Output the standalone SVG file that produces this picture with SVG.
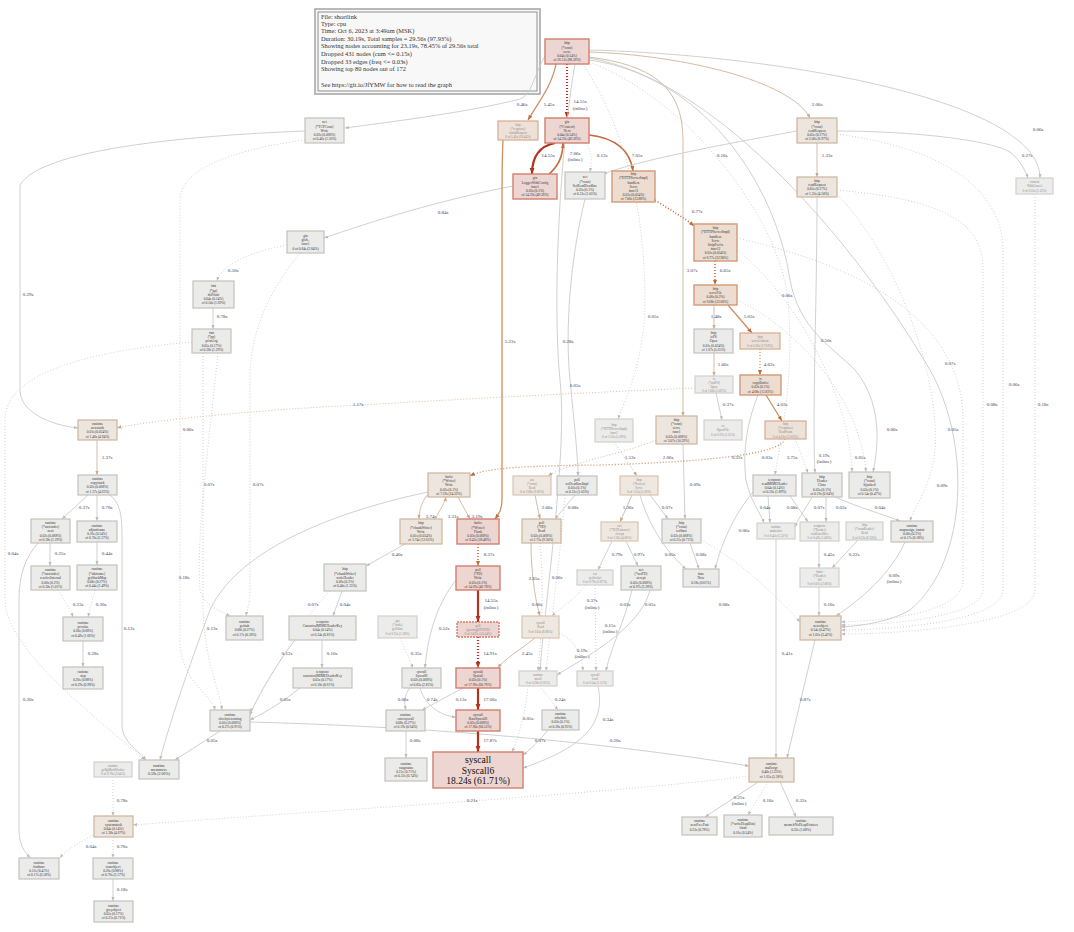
<svg xmlns="http://www.w3.org/2000/svg" width="1074" height="932" viewBox="0 0 1074 932">
<style>
.gr{fill:#ebebe9;stroke:#c4c2bd;stroke-width:1.2}
.gd{fill:#ececea;stroke:#d2d1ce;stroke-width:1.2}
.tn{fill:#ede6de;stroke:#cdb49c;stroke-width:1.2}
.td{fill:#eee8e1;stroke:#d9c4b0;stroke-width:1.2}
.or{fill:#eddcd0;stroke:#d19a78;stroke-width:1.4}
.od{fill:#eee1d7;stroke:#d8ab8e;stroke-width:1.2}
.rd{fill:#edd5d2;stroke:#d27f6e;stroke-width:1.4}
.nt{font-family:"Liberation Serif",serif;font-size:3.5px;fill:#333;text-anchor:middle}
.nd{font-family:"Liberation Serif",serif;font-size:3.2px;fill:#8a8a8a;text-anchor:middle}
.el{font-family:"Liberation Serif",serif;font-size:5px;fill:#3b3b5c;text-anchor:middle}
.lg{font-family:"Liberation Serif",serif;font-size:6.4px;fill:#333}
.e{fill:none}
.eg{stroke:#cbcbcb;stroke-width:0.9}
.et{stroke:#d5bca5;stroke-width:1}
.eo{stroke:#cf8e62;stroke-width:1.3}
.eo2{stroke:#c4693a;stroke-width:1.6}
.er{stroke:#b5311a;stroke-width:2.2}
.d{stroke-dasharray:1 2}
</style>
<defs>
<marker id="mg" viewBox="0 0 10 10" refX="10" refY="5" markerWidth="4" markerHeight="4" markerUnits="userSpaceOnUse" orient="auto"><path d="M0,1L10,5L0,9z" fill="#bcbcbc"/></marker>
<marker id="mt" viewBox="0 0 10 10" refX="10" refY="5" markerWidth="4.5" markerHeight="4.5" markerUnits="userSpaceOnUse" orient="auto"><path d="M0,1L10,5L0,9z" fill="#c9a78a"/></marker>
<marker id="mo" viewBox="0 0 10 10" refX="10" refY="5" markerWidth="5" markerHeight="5" markerUnits="userSpaceOnUse" orient="auto"><path d="M0,1L10,5L0,9z" fill="#c4693a"/></marker>
<marker id="mr" viewBox="0 0 10 10" refX="10" refY="5" markerWidth="6" markerHeight="6" markerUnits="userSpaceOnUse" orient="auto"><path d="M0,1L10,5L0,9z" fill="#b5311a"/></marker>
</defs>
<rect width="1074" height="932" fill="#ffffff"/>

<g id="legend">
<rect x="315" y="9" width="225" height="85" fill="#f8f8f8" stroke="#a8a8a8" stroke-width="1.6"/>
<rect x="318" y="12" width="219" height="79" fill="none" stroke="#777" stroke-width="0.8"/>
<text class="lg" x="321" y="18.5">File: shortlink</text>
<text class="lg" x="321" y="26">Type: cpu</text>
<text class="lg" x="321" y="33.3">Time: Oct 6, 2023 at 3:49am (MSK)</text>
<text class="lg" x="321" y="40.8">Duration: 30.19s, Total samples = 29.56s (97.93%)</text>
<text class="lg" x="321" y="48">Showing nodes accounting for 23.19s, 78.45% of 29.56s total</text>
<text class="lg" x="321" y="55.7">Dropped 431 nodes (cum &lt;= 0.15s)</text>
<text class="lg" x="321" y="63.5">Dropped 33 edges (freq &lt;= 0.03s)</text>
<text class="lg" x="321" y="71.2">Showing top 80 nodes out of 172</text>
<text class="lg" x="321" y="86.5">See https://git.io/JfYMW for how to read the graph</text>
</g>

<g id="connectors">
<path class="e eg" d="M545,56 C532,80 532,94 520,99 C470,112 390,122 345,128" marker-end="url(#mg)"/>
<text class="el" x="522" y="106">0.46s</text>
<path class="e eo" d="M556,64 C552,85 540,100 528,120" marker-end="url(#mo)"/>
<text class="el" x="549" y="106">5.45s</text>
<path class="e er d" d="M567,64 L567,118" marker-end="url(#mr)"/>
<text class="el" x="580" y="103">14.55s</text><text class="el" x="580" y="110">(inline)</text>
<path class="e er" d="M555,143 C540,146 532,156 532,174" marker-end="url(#mr)"/>
<text class="el" x="548" y="157">14.55s</text>
<path class="e eo2" d="M549,174 C560,165 563,155 563,143" marker-end="url(#mo)"/>
<text class="el" x="575" y="155">7.06s</text><text class="el" x="575" y="161">(inline)</text>
<path class="e eg d" d="M585,143 C592,150 592,160 590,172" marker-end="url(#mg)"/>
<text class="el" x="602" y="157">0.12s</text>
<path class="e eo2" d="M589,135 C615,138 630,150 633,171" marker-end="url(#mo)"/>
<text class="el" x="637" y="157">7.05s</text>
<path class="e eo2 d" d="M655,200 C670,210 685,218 694,226" marker-end="url(#mo)"/>
<text class="el" x="697" y="213">6.77s</text>
<path class="e eo2 d" d="M715,261 L715,285" marker-end="url(#mo)"/>
<text class="el" x="725" y="272">6.65s</text>
<path class="e et" d="M589,57 C650,65 683,85 683,140 L683,416" marker-end="url(#mt)"/>
<text class="el" x="692" y="272">3.07s</text>
<path class="e et" d="M589,52 C680,55 790,80 810,118" marker-end="url(#mt)"/>
<text class="el" x="817" y="106">2.06s</text>
<path class="e et" d="M817,143 L817,177" marker-end="url(#mt)"/>
<text class="el" x="827" y="157">1.33s</text>
<path class="e eg" d="M837,131 C900,131 985,138 1010,152 C1020,160 1025,170 1028,178" marker-end="url(#mg)"/>
<text class="el" x="1027" y="157">0.27s</text>
<path class="e eg" d="M589,50 C780,55 1040,100 1040,178" marker-end="url(#mg)"/>
<text class="el" x="1038" y="131">0.06s</text>
<path class="e eg" d="M797,131 C720,145 640,160 603,174" marker-end="url(#mg)"/>
<text class="el" x="722" y="157">0.16s</text>
<path class="e eg" d="M513,186 C440,200 370,222 324,238" marker-end="url(#mg)"/>
<text class="el" x="443" y="214">0.84s</text>
<path class="e eg d" d="M287,245 C250,252 222,264 217,281" marker-end="url(#mg)"/>
<text class="el" x="233" y="272">0.50s</text>
<path class="e eg" d="M213,308 L213,329" marker-end="url(#mg)"/>
<text class="el" x="222" y="318">0.78s</text>
<path class="e eg" d="M305,131 C180,136 40,150 20,185 L20,390 C20,412 50,425 78,428" marker-end="url(#mg)"/>
<text class="el" x="28" y="296">0.29s</text>
<path class="e et d" d="M695,388 C600,392 480,398 360,405 C250,410 140,422 117,428" marker-end="url(#mt)"/>
<text class="el" x="358" y="406">1.17s</text>
<path class="e et" d="M97,440 L97,475" marker-end="url(#mt)"/>
<text class="el" x="107" y="459">1.37s</text>
<path class="e eg" d="M88,495 L62,519" marker-end="url(#mg)"/>
<text class="el" x="84" y="509">0.37s</text>
<path class="e eg" d="M97,495 L97,521" marker-end="url(#mg)"/>
<text class="el" x="107" y="509">0.70s</text>
<path class="e eg" d="M110,495 C122,505 122,520 122,540 L122,725 C122,742 140,752 146,760" marker-end="url(#mg)"/>
<text class="el" x="129" y="630">0.12s</text>
<path class="e eg" d="M50,543 L50,566" marker-end="url(#mg)"/>
<text class="el" x="60" y="555">0.25s</text>
<path class="e eg" d="M97,542 L97,565" marker-end="url(#mg)"/>
<text class="el" x="107" y="555">0.44s</text>
<path class="e eg d" d="M58,590 C64,600 70,608 73,617" marker-end="url(#mg)"/>
<text class="el" x="78" y="606">0.23s</text>
<path class="e eg d" d="M95,590 L88,617" marker-end="url(#mg)"/>
<text class="el" x="101" y="606">0.30s</text>
<path class="e eg" d="M83,641 L83,667" marker-end="url(#mg)"/>
<text class="el" x="93" y="655">0.28s</text>
<path class="e eg" d="M38,543 C25,558 19,575 19,600 L19,830 C19,845 25,852 30,858" marker-end="url(#mg)"/>
<text class="el" x="28" y="701">0.30s</text>
<path class="e eg d" d="M192,342 C100,350 5,370 5,420 L5,600 C5,650 100,720 145,760" marker-end="url(#mg)"/>
<text class="el" x="13" y="555">0.04s</text>
<path class="e eg d" d="M305,140 C230,150 180,170 180,200 L180,640 C180,680 212,695 215,710" marker-end="url(#mg)"/>
<text class="el" x="188" y="431">0.06s</text>
<path class="e eg d" d="M203,353 L203,600 C203,660 220,690 222,710" marker-end="url(#mg)"/>
<text class="el" x="209" y="486">0.07s</text>
<path class="e eg d" d="M300,253 C270,290 250,330 250,380 L250,590 C250,603 247,610 246,616" marker-end="url(#mg)"/>
<text class="el" x="258" y="486">0.07s</text>
<path class="e eg d" d="M218,353 C208,450 196,540 200,590 C203,605 222,612 230,616" marker-end="url(#mg)"/>
<text class="el" x="184" y="579">0.18s</text>
<path class="e eg" d="M428,492 C320,515 235,555 210,610 C195,650 170,720 160,760" marker-end="url(#mg)"/>
<text class="el" x="212" y="630">0.13s</text>
<path class="e eg" d="M220,731 L175,760" marker-end="url(#mg)"/>
<text class="el" x="212" y="742">0.05s</text>
<path class="e eg d" d="M113,777 L113,816" marker-end="url(#mg)"/>
<text class="el" x="122" y="802">0.78s</text>
<path class="e eg d" d="M113,837 L113,858" marker-end="url(#mg)"/>
<text class="el" x="122" y="848">0.76s</text>
<path class="e eg d" d="M96,834 C80,842 66,850 60,858" marker-end="url(#mg)"/>
<text class="el" x="91" y="848">0.04s</text>
<path class="e eg" d="M113,879 L113,901" marker-end="url(#mg)"/>
<text class="el" x="122" y="891">0.18s</text>
<path class="e eg d" d="M749,776 C600,795 300,812 133,825" marker-end="url(#mg)"/>
<text class="el" x="472" y="802">0.21s</text>
<path class="e eg" d="M250,722 C400,726 580,738 749,766" marker-end="url(#mg)"/>
<text class="el" x="615" y="742">0.20s</text>

<path class="e eo" d="M503,140 C502,160 502,180 502,200 L502,500 C502,510 498,515 495,519" marker-end="url(#mo)"/>
<text class="el" x="510" y="343">5.22s</text>
<path class="e et" d="M430,492 C422,500 419,510 419,519" marker-end="url(#mt)"/>
<text class="el" x="431" y="518">3.74s</text>
<path class="e et" d="M435,519 C440,510 445,502 446,497" marker-end="url(#mt)"/>
<text class="el" x="453" y="518">3.31s</text>
<path class="e et" d="M458,497 L470,519" marker-end="url(#mt)"/>
<text class="el" x="477" y="518">3.19s</text>
<path class="e eg" d="M405,544 L366,566" marker-end="url(#mg)"/>
<text class="el" x="397" y="556">0.40s</text>
<path class="e eo2 d" d="M478,544 L478,566" marker-end="url(#mo)"/>
<text class="el" x="489" y="556">8.37s</text>
<path class="e er" d="M478,590 L478,622" marker-end="url(#mr)"/>
<text class="el" x="491" y="602">14.55s</text><text class="el" x="491" y="609">(inline)</text>
<path class="e er d" d="M478,637 L478,668" marker-end="url(#mr)"/>
<text class="el" x="490" y="655">14.91s</text>
<path class="e er" d="M478,688 L478,710" marker-end="url(#mr)"/>
<text class="el" x="490" y="701">17.06s</text>
<path class="e er" d="M478,731 L478,752" marker-end="url(#mr)"/>
<text class="el" x="490" y="742">17.87s</text>
<path class="e eg" d="M410,688 C404,695 404,703 406,710" marker-end="url(#mg)"/>
<text class="el" x="403" y="701">0.06s</text>
<path class="e eg" d="M420,688 C425,705 440,716 456,717" marker-end="url(#mg)"/>
<text class="el" x="432" y="701">0.74s</text>
<path class="e eg" d="M463,688 L422,710" marker-end="url(#mg)"/>
<text class="el" x="461" y="701">0.13s</text>
<path class="e eg" d="M406,731 L406,758" marker-end="url(#mg)"/>
<text class="el" x="415" y="742">0.08s</text>
<path class="e et" d="M535,638 C520,650 503,660 498,668" marker-end="url(#mt)"/>
<text class="el" x="527" y="655">2.45s</text>
<path class="e et" d="M531,543 C531,570 535,600 540,616" marker-end="url(#mt)"/>
<text class="el" x="534" y="580">2.65s</text>
<path class="e et" d="M535,495 L540,519" marker-end="url(#mt)"/>
<text class="el" x="547" y="509">2.66s</text>
<path class="e eg" d="M575,495 L555,519" marker-end="url(#mg)"/>
<text class="el" x="573" y="509">0.08s</text>
<path class="e et d" d="M656,440 C620,455 570,462 548,476" marker-end="url(#mt)"/>
<text class="el" x="668" y="459">2.06s</text>
<path class="e eg" d="M683,444 L685,519" marker-end="url(#mg)"/>
<text class="el" x="695" y="486">0.09s</text>
<path class="e et" d="M714,305 L714,329" marker-end="url(#mt)"/>
<text class="el" x="716" y="318">1.48s</text>
<path class="e eo" d="M728,305 L752,333" marker-end="url(#mo)"/>
<text class="el" x="749" y="318">5.03s</text>
<path class="e et" d="M714,353 L714,376" marker-end="url(#mt)"/>
<text class="el" x="723" y="366">1.66s</text>
<path class="e eo d" d="M760,349 L760,375" marker-end="url(#mo)"/>
<text class="el" x="769" y="366">4.62s</text>
<path class="e eg" d="M716,393 L722,420" marker-end="url(#mg)"/>
<text class="el" x="728" y="406">0.37s</text>
<path class="e eo" d="M766,395 L782,421" marker-end="url(#mo)"/>
<text class="el" x="782" y="406">4.03s</text>
<path class="e eo d" d="M785,439 C780,455 700,462 600,465 C520,466 485,468 470,476" marker-end="url(#mo)"/>
<text class="el" x="792" y="459">3.75s</text>
<path class="e eg" d="M758,395 C748,420 742,450 746,480 C750,500 760,512 764,523" marker-end="url(#mg)"/>
<text class="el" x="737" y="459">0.32s</text>
<path class="e eg d" d="M795,439 C800,450 805,465 808,473" marker-end="url(#mg)"/>
<text class="el" x="767" y="459">0.03s</text>
<path class="e eg d" d="M583,64 C620,120 645,200 645,300 C645,360 625,400 618,419" marker-end="url(#mg)"/>
<text class="el" x="653" y="318">0.05s</text>
<path class="e et d" d="M614,442 L637,476" marker-end="url(#mt)"/>
<text class="el" x="630" y="459">1.53s</text>
<path class="e eg" d="M585,199 C570,260 565,330 570,380 C575,430 578,460 578,476" marker-end="url(#mg)"/>
<text class="el" x="568" y="343">0.28s</text>
<path class="e eg" d="M575,64 C560,150 552,300 560,380 C568,450 545,600 540,671" marker-end="url(#mg)"/>
<text class="el" x="575" y="387">0.05s</text>
<path class="e et" d="M632,495 L620,522" marker-end="url(#mt)"/>
<text class="el" x="628" y="509">1.36s</text>
<path class="e eg" d="M650,495 L668,519" marker-end="url(#mg)"/>
<text class="el" x="667" y="509">0.07s</text>
<path class="e eg" d="M612,541 L598,570" marker-end="url(#mg)"/>
<text class="el" x="617" y="556">0.79s</text>
<path class="e eg" d="M626,541 L638,566" marker-end="url(#mg)"/>
<text class="el" x="639" y="556">0.97s</text>
<path class="e eg" d="M690,543 L699,569" marker-end="url(#mg)"/>
<text class="el" x="701" y="556">0.08s</text>
<path class="e eg" d="M640,495 C650,530 670,555 686,569" marker-end="url(#mg)"/>
<text class="el" x="670" y="556">0.05s</text>
<path class="e eg" d="M768,496 L770,523" marker-end="url(#mg)"/>
<text class="el" x="765" y="509">0.04s</text>
<path class="e eg" d="M790,496 L808,522" marker-end="url(#mg)"/>
<text class="el" x="792" y="509">0.08s</text>
<path class="e eg" d="M753,492 C730,520 720,550 715,569" marker-end="url(#mg)"/>
<text class="el" x="744" y="532">0.06s</text>
<path class="e eg" d="M812,497 C805,510 800,515 795,527" marker-end="url(#mg)"/>
<text class="el" x="819" y="509">0.07s</text>
<path class="e eg" d="M826,497 L826,522" marker-end="url(#mg)"/>
<text class="el" x="841" y="509">0.03s</text>
<path class="e eg" d="M835,497 C860,508 885,515 900,521" marker-end="url(#mg)"/>
<text class="el" x="880" y="509">0.04s</text>
<path class="e eg" d="M819,541 L819,568" marker-end="url(#mg)"/>
<text class="el" x="829" y="556">0.45s</text>
<path class="e eg" d="M858,540 L832,568" marker-end="url(#mg)"/>
<text class="el" x="854" y="556">0.22s</text>
<path class="e eg" d="M905,542 C890,575 860,600 836,616" marker-end="url(#mg)"/>
<text class="el" x="894" y="577">0.09s</text><text class="el" x="894" y="583">(inline)</text>
<path class="e eg" d="M819,587 L819,616" marker-end="url(#mg)"/>
<text class="el" x="829" y="606">0.16s</text>
<path class="e eg" d="M776,539 L776,758" marker-end="url(#mg)"/>
<text class="el" x="787" y="655">0.41s</text>
<path class="e eg" d="M815,640 L787,758" marker-end="url(#mg)"/>
<text class="el" x="805" y="701">0.87s</text>
<path class="e eg" d="M758,782 L705,817" marker-end="url(#mg)"/>
<text class="el" x="739" y="799">0.25s</text><text class="el" x="739" y="805">(inline)</text>
<path class="e eg d" d="M768,782 L748,815" marker-end="url(#mg)"/>
<text class="el" x="768" y="802">0.16s</text>
<path class="e eg" d="M780,782 L796,817" marker-end="url(#mg)"/>
<text class="el" x="801" y="802">0.32s</text>
<path class="e eg" d="M598,686 C605,720 590,745 523,768" marker-end="url(#mg)"/>
<text class="el" x="608" y="721">0.34s</text>
<path class="e eg d" d="M540,686 L558,710" marker-end="url(#mg)"/>
<text class="el" x="560" y="701">0.24s</text>
<path class="e eg d" d="M528,686 C526,710 518,740 512,752" marker-end="url(#mg)"/>
<text class="el" x="528" y="720">0.05s</text>
<path class="e eg" d="M548,730 C540,740 530,750 523,755" marker-end="url(#mg)"/>
<text class="el" x="540" y="742">0.07s</text>
<path class="e eg d" d="M559,633 C575,640 582,655 583,671" marker-end="url(#mg)"/>
<text class="el" x="582" y="652">0.19s</text><text class="el" x="582" y="658">(inline)</text>
<path class="e eg d" d="M595,585 L596,671" marker-end="url(#mg)"/>
<text class="el" x="610" y="627">0.15s</text><text class="el" x="610" y="633">(inline)</text>
<path class="e eg d" d="M585,585 C575,600 560,608 552,616" marker-end="url(#mg)"/>
<text class="el" x="592" y="602">0.37s</text><text class="el" x="592" y="609">(inline)</text>
<path class="e eg" d="M632,590 C625,620 610,650 606,671" marker-end="url(#mg)"/>
<text class="el" x="625" y="606">0.03s</text>
<path class="e eg" d="M650,590 C640,630 580,660 557,675" marker-end="url(#mg)"/>
<text class="el" x="650" y="606">0.05s</text>
<path class="e eg d" d="M701,540 C740,560 780,600 800,622" marker-end="url(#mg)"/>
<text class="el" x="724" y="606">0.08s</text>
<path class="e eg d" d="M540,543 C545,600 540,650 538,671" marker-end="url(#mg)"/>
<text class="el" x="537" y="606">0.06s</text>
<path class="e eg d" d="M565,495 C560,560 550,630 546,671" marker-end="url(#mg)"/>
<text class="el" x="557" y="579">0.06s</text>
<path class="e eg" d="M342,591 L333,616" marker-end="url(#mg)"/>
<text class="el" x="345" y="606">0.04s</text>
<path class="e eg d" d="M330,591 C300,620 270,680 250,712" marker-end="url(#mg)"/>
<text class="el" x="313" y="606">0.07s</text>
<path class="e eg" d="M322,640 L322,668" marker-end="url(#mg)"/>
<text class="el" x="332" y="655">0.10s</text>
<path class="e eg" d="M295,640 C280,660 260,690 250,715" marker-end="url(#mg)"/>
<text class="el" x="287" y="655">0.12s</text>
<path class="e eg" d="M300,688 C285,700 270,710 250,720" marker-end="url(#mg)"/>
<text class="el" x="285" y="701">0.05s</text>
<path class="e eg d" d="M400,638 L413,668" marker-end="url(#mg)"/>
<text class="el" x="416" y="655">0.35s</text>
<path class="e eg" d="M456,580 C440,600 428,630 425,668" marker-end="url(#mg)"/>
<text class="el" x="444" y="630">0.52s</text>

<path class="e eg" d="M589,60 C700,75 775,180 790,280 C800,330 830,345 855,370 C880,400 880,440 873,472" marker-end="url(#mg)"/>
<text class="el" x="826" y="342">0.50s</text>
<path class="e eg" d="M589,58 C720,80 860,250 930,370 C970,440 970,560 910,610 C890,622 860,626 841,627" marker-end="url(#mg)"/>
<text class="el" x="953" y="431">0.05s</text>
<path class="e eg d" d="M737,238 C880,270 963,330 963,420 L963,580 C963,610 900,620 841,622" marker-end="url(#mg)"/>
<text class="el" x="950" y="365">0.07s</text>
<path class="e eg d" d="M837,134 C960,150 1003,200 1003,250 L1003,590 C1003,620 900,630 841,630" marker-end="url(#mg)"/>
<text class="el" x="1014" y="386">0.06s</text>
<path class="e eg d" d="M837,190 C950,200 983,225 983,270 L983,590 C983,615 900,625 841,625" marker-end="url(#mg)"/>
<text class="el" x="992" y="406">0.08s</text>
<path class="e eg d" d="M1035,194 L1035,590 C1035,625 900,634 841,634" marker-end="url(#mg)"/>
<text class="el" x="1043" y="406">0.18s</text>
<path class="e eg d" d="M737,300 C800,330 860,400 866,472" marker-end="url(#mg)"/>
<text class="el" x="892" y="431">0.06s</text>
<path class="e eg" d="M817,197 C817,300 812,420 815,473" marker-end="url(#mg)"/>
<text class="el" x="824" y="457">0.19s</text><text class="el" x="824" y="463">(inline)</text>
<path class="e eg d" d="M737,250 C800,300 850,400 852,472" marker-end="url(#mg)"/>
<text class="el" x="860" y="459">0.05s</text>
<path class="e eg d" d="M837,194 C900,260 940,380 935,450 C930,490 915,505 910,521" marker-end="url(#mg)"/>
<text class="el" x="942" y="487">0.09s</text>
<path class="e eg d" d="M589,62 C690,100 780,220 788,300 C795,380 780,440 775,475" marker-end="url(#mg)"/>
<text class="el" x="787" y="297">0.06s</text>
</g>

<g id="n_root"><rect class="rd" x="545" y="39" width="44" height="25"/><text class="nt" x="567" y="44.4"><tspan x="567">http</tspan><tspan x="567" dy="4.2">(*conn)</tspan><tspan x="567" dy="4.2">serve</tspan><tspan x="567" dy="4.2">0.04s (0.14%)</tspan><tspan x="567" dy="4.2">of 26.12s (88.36%)</tspan></text></g>
<g id="n_tcpw"><rect class="gr" x="305" y="118" width="39" height="25"/><text class="nt" x="324.5" y="123.4"><tspan x="324.5">net</tspan><tspan x="324.5" dy="4.2">(*TCPConn)</tspan><tspan x="324.5" dy="4.2">Write</tspan><tspan x="324.5" dy="4.2">0.02s (0.068%)</tspan><tspan x="324.5" dy="4.2">of 0.46s (1.56%)</tspan></text></g>
<g id="n_finish"><rect class="od" x="498" y="121" width="40" height="19"/><text class="nd" x="518" y="125.5"><tspan x="518">http</tspan><tspan x="518" dy="4.2">(*response)</tspan><tspan x="518" dy="4.2">finishRequest</tspan><tspan x="518" dy="4.2">0 of 5.45s (18.44%)</tspan></text></g>
<g id="n_next"><rect class="rd" x="545" y="118" width="44" height="25"/><text class="nt" x="567" y="123.4"><tspan x="567">gin</tspan><tspan x="567" dy="4.2">(*Context)</tspan><tspan x="567" dy="4.2">Next</tspan><tspan x="567" dy="4.2">0.04s (0.14%)</tspan><tspan x="567" dy="4.2">of 14.59s (49.36%)</tspan></text></g>
<g id="n_logger"><rect class="rd" x="513" y="174" width="44" height="25"/><text class="nt" x="535" y="179.4"><tspan x="535">gin</tspan><tspan x="535" dy="4.2">LoggerWithConfig</tspan><tspan x="535" dy="4.2">func1</tspan><tspan x="535" dy="4.2">0.03s (0.1%)</tspan><tspan x="535" dy="4.2">of 14.59s (49.36%)</tspan></text></g>
<g id="n_setrd"><rect class="gr" x="565" y="172" width="40" height="27"/><text class="nt" x="585" y="178.4"><tspan x="585">net</tspan><tspan x="585" dy="4.2">(*conn)</tspan><tspan x="585" dy="4.2">SetReadDeadline</tspan><tspan x="585" dy="4.2">0.03s (0.1%)</tspan><tspan x="585" dy="4.2">of 0.31s (1.05%)</tspan></text></g>
<g id="n_f11"><rect class="or" x="612" y="171" width="43" height="31"/><text class="nt" x="633.5" y="175.2"><tspan x="633.5">http</tspan><tspan x="633.5" dy="4.2">(*HTTPServerImpl)</tspan><tspan x="633.5" dy="4.2">handlers</tspan><tspan x="633.5" dy="4.2">Serve</tspan><tspan x="633.5" dy="4.2">func11</tspan><tspan x="633.5" dy="4.2">0.01s (0.034%)</tspan><tspan x="633.5" dy="4.2">of 7.06s (23.88%)</tspan></text></g>
<g id="n_f12"><rect class="or" x="694" y="224" width="43" height="37"/><text class="nt" x="715.5" y="229.1"><tspan x="715.5">http</tspan><tspan x="715.5" dy="4.2">(*HTTPServerImpl)</tspan><tspan x="715.5" dy="4.2">handlers</tspan><tspan x="715.5" dy="4.2">Serve</tspan><tspan x="715.5" dy="4.2">StripPrefix</tspan><tspan x="715.5" dy="4.2">func12</tspan><tspan x="715.5" dy="4.2">0.01s (0.034%)</tspan><tspan x="715.5" dy="4.2">of 6.77s (22.90%)</tspan></text></g>
<g id="n_servefile"><rect class="or" x="694" y="285" width="43" height="20"/><text class="nt" x="715.5" y="290"><tspan x="715.5">http</tspan><tspan x="715.5" dy="4.2">serveFile</tspan><tspan x="715.5" dy="4.2">0.06s (0.2%)</tspan><tspan x="715.5" dy="4.2">of 6.68s (22.60%)</tspan></text></g>
<g id="n_cread"><rect class="tn" x="797" y="118" width="40" height="25"/><text class="nt" x="817" y="123.4"><tspan x="817">http</tspan><tspan x="817" dy="4.2">(*conn)</tspan><tspan x="817" dy="4.2">readRequest</tspan><tspan x="817" dy="4.2">0.05s (0.17%)</tspan><tspan x="817" dy="4.2">of 2.06s (6.97%)</tspan></text></g>
<g id="n_rread"><rect class="tn" x="797" y="177" width="40" height="20"/><text class="nt" x="817" y="182"><tspan x="817">http</tspan><tspan x="817" dy="4.2">readRequest</tspan><tspan x="817" dy="4.2">0.05s (0.17%)</tspan><tspan x="817" dy="4.2">of 1.33s (4.50%)</tspan></text></g>
<g id="n_ctx"><rect class="gd" x="1016" y="178" width="37" height="16"/><text class="nd" x="1034.5" y="183.1"><tspan x="1034.5">context</tspan><tspan x="1034.5" dy="4.2">WithCancel</tspan><tspan x="1034.5" dy="4.2">0 of 0.33s (1.12%)</tspan></text></g>
<g id="n_ginfn"><rect class="gr" x="287" y="231" width="37" height="22"/><text class="nt" x="305.5" y="237"><tspan x="305.5">gin</tspan><tspan x="305.5" dy="4.2">glob..</tspan><tspan x="305.5" dy="4.2">func1</tspan><tspan x="305.5" dy="4.2">0 of 0.84s (2.84%)</tspan></text></g>
<g id="n_doprintf"><rect class="gr" x="193" y="281" width="41" height="27"/><text class="nt" x="213.5" y="287.4"><tspan x="213.5">fmt</tspan><tspan x="213.5" dy="4.2">(*pp)</tspan><tspan x="213.5" dy="4.2">doPrintf</tspan><tspan x="213.5" dy="4.2">0.04s (0.14%)</tspan><tspan x="213.5" dy="4.2">of 0.50s (1.69%)</tspan></text></g>
<g id="n_printarg"><rect class="gr" x="192" y="329" width="39" height="24"/><text class="nt" x="211.5" y="333.9"><tspan x="211.5">fmt</tspan><tspan x="211.5" dy="4.2">(*pp)</tspan><tspan x="211.5" dy="4.2">printArg</tspan><tspan x="211.5" dy="4.2">0.05s (0.17%)</tspan><tspan x="211.5" dy="4.2">of 0.38s (1.29%)</tspan></text></g>
<g id="n_newstack"><rect class="tn" x="78" y="420" width="39" height="20"/><text class="nt" x="97.5" y="425"><tspan x="97.5">runtime</tspan><tspan x="97.5" dy="4.2">newstack</tspan><tspan x="97.5" dy="4.2">0.01s (0.034%)</tspan><tspan x="97.5" dy="4.2">of 1.46s (4.94%)</tspan></text></g>
<g id="n_copystack"><rect class="gr" x="78" y="475" width="39" height="20"/><text class="nt" x="97.5" y="480"><tspan x="97.5">runtime</tspan><tspan x="97.5" dy="4.2">copystack</tspan><tspan x="97.5" dy="4.2">0.02s (0.068%)</tspan><tspan x="97.5" dy="4.2">of 1.37s (4.63%)</tspan></text></g>
<g id="n_unwnext"><rect class="gr" x="31" y="519" width="39" height="24"/><text class="nt" x="50.5" y="523.9"><tspan x="50.5">runtime</tspan><tspan x="50.5" dy="4.2">(*unwinder)</tspan><tspan x="50.5" dy="4.2">next</tspan><tspan x="50.5" dy="4.2">0.02s (0.068%)</tspan><tspan x="50.5" dy="4.2">of 0.38s (1.29%)</tspan></text></g>
<g id="n_adjust"><rect class="gr" x="77" y="521" width="40" height="21"/><text class="nt" x="97" y="526.5"><tspan x="97">runtime</tspan><tspan x="97" dy="4.2">adjustframe</tspan><tspan x="97" dy="4.2">0.16s (0.54%)</tspan><tspan x="97" dy="4.2">of 0.70s (2.37%)</tspan></text></g>
<g id="n_resolve"><rect class="gr" x="31" y="566" width="39" height="24"/><text class="nt" x="50.5" y="570.9"><tspan x="50.5">runtime</tspan><tspan x="50.5" dy="4.2">(*unwinder)</tspan><tspan x="50.5" dy="4.2">resolveInternal</tspan><tspan x="50.5" dy="4.2">0.06s (0.2%)</tspan><tspan x="50.5" dy="4.2">of 0.30s (1.01%)</tspan></text></g>
<g id="n_getstackmap"><rect class="gr" x="77" y="565" width="40" height="25"/><text class="nt" x="97" y="570.4"><tspan x="97">runtime</tspan><tspan x="97" dy="4.2">(*stkframe)</tspan><tspan x="97" dy="4.2">getStackMap</tspan><tspan x="97" dy="4.2">0.08s (0.27%)</tspan><tspan x="97" dy="4.2">of 0.44s (1.49%)</tspan></text></g>
<g id="n_pcvalue"><rect class="gr" x="63" y="617" width="40" height="24"/><text class="nt" x="83" y="624"><tspan x="83">runtime</tspan><tspan x="83" dy="4.2">pcvalue</tspan><tspan x="83" dy="4.2">0.20s (0.68%)</tspan><tspan x="83" dy="4.2">of 0.49s (1.66%)</tspan></text></g>
<g id="n_step"><rect class="gr" x="63" y="667" width="40" height="22"/><text class="nt" x="83" y="673"><tspan x="83">runtime</tspan><tspan x="83" dy="4.2">step</tspan><tspan x="83" dy="4.2">0.26s (0.88%)</tspan><tspan x="83" dy="4.2">of 0.29s (0.98%)</tspan></text></g>
<g id="n_getitab"><rect class="gr" x="226" y="616" width="37" height="24"/><text class="nt" x="244.5" y="623"><tspan x="244.5">runtime</tspan><tspan x="244.5" dy="4.2">getitab</tspan><tspan x="244.5" dy="4.2">0.08s (0.27%)</tspan><tspan x="244.5" dy="4.2">of 0.17s (0.58%)</tspan></text></g>
<g id="n_slicebyte"><rect class="gr" x="210" y="710" width="40" height="21"/><text class="nt" x="230" y="715.5"><tspan x="230">runtime</tspan><tspan x="230" dy="4.2">slicebytetostring</tspan><tspan x="230" dy="4.2">0.02s (0.068%)</tspan><tspan x="230" dy="4.2">of 0.27s (0.91%)</tspan></text></g>
<g id="n_memmove"><rect class="gr" x="139" y="760" width="40" height="19"/><text class="nt" x="159" y="766.6" style="font-size:3.9px"><tspan x="159">runtime</tspan><tspan x="159" dy="4.4">memmove</tspan><tspan x="159" dy="4.4">0.59s (2.00%)</tspan></text></g>
<g id="n_gcbg"><rect class="gd" x="94" y="762" width="38" height="15"/><text class="nd" x="113" y="766.6"><tspan x="113">runtime</tspan><tspan x="113" dy="4.2">gcBgMarkWorker</tspan><tspan x="113" dy="4.2">0 of 0.78s (2.64%)</tspan></text></g>
<g id="n_systemstack"><rect class="tn" x="94" y="816" width="39" height="21"/><text class="nt" x="113.5" y="821.5"><tspan x="113.5">runtime</tspan><tspan x="113.5" dy="4.2">systemstack</tspan><tspan x="113.5" dy="4.2">0.04s (0.14%)</tspan><tspan x="113.5" dy="4.2">of 1.38s (4.67%)</tspan></text></g>
<g id="n_findfunc"><rect class="gr" x="19" y="858" width="40" height="21"/><text class="nt" x="39" y="863.5"><tspan x="39">runtime</tspan><tspan x="39" dy="4.2">findfunc</tspan><tspan x="39" dy="4.2">0.12s (0.41%)</tspan><tspan x="39" dy="4.2">of 0.17s (0.58%)</tspan></text></g>
<g id="n_scanobject"><rect class="gr" x="93" y="858" width="40" height="21"/><text class="nt" x="113" y="863.5"><tspan x="113">runtime</tspan><tspan x="113" dy="4.2">scanobject</tspan><tspan x="113" dy="4.2">0.26s (0.88%)</tspan><tspan x="113" dy="4.2">of 0.76s (2.57%)</tspan></text></g>
<g id="n_greyobject"><rect class="gr" x="94" y="901" width="39" height="21"/><text class="nt" x="113.5" y="906.5"><tspan x="113.5">runtime</tspan><tspan x="113.5" dy="4.2">greyobject</tspan><tspan x="113.5" dy="4.2">0.05s (0.17%)</tspan><tspan x="113.5" dy="4.2">of 0.21s (0.71%)</tspan></text></g>
<g id="n_bufw"><rect class="tn" x="428" y="473" width="42" height="24"/><text class="nt" x="449" y="477.9"><tspan x="449">bufio</tspan><tspan x="449" dy="4.2">(*Writer)</tspan><tspan x="449" dy="4.2">Write</tspan><tspan x="449" dy="4.2">0.03s (0.1%)</tspan><tspan x="449" dy="4.2">of 7.19s (24.32%)</tspan></text></g>
<g id="n_chunkw"><rect class="tn" x="400" y="519" width="42" height="25"/><text class="nt" x="421" y="524.4"><tspan x="421">http</tspan><tspan x="421" dy="4.2">(*chunkWriter)</tspan><tspan x="421" dy="4.2">Write</tspan><tspan x="421" dy="4.2">0.01s (0.034%)</tspan><tspan x="421" dy="4.2">of 3.74s (12.65%)</tspan></text></g>
<g id="n_flush"><rect class="rd" x="457" y="519" width="42" height="25"/><text class="nt" x="478" y="524.4"><tspan x="478">bufio</tspan><tspan x="478" dy="4.2">(*Writer)</tspan><tspan x="478" dy="4.2">Flush</tspan><tspan x="478" dy="4.2">0.02s (0.068%)</tspan><tspan x="478" dy="4.2">of 8.42s (28.48%)</tspan></text></g>
<g id="n_writeheader"><rect class="gr" x="324" y="564" width="42" height="27"/><text class="nt" x="345" y="570.4"><tspan x="345">http</tspan><tspan x="345" dy="4.2">(*chunkWriter)</tspan><tspan x="345" dy="4.2">writeHeader</tspan><tspan x="345" dy="4.2">0.06s (0.2%)</tspan><tspan x="345" dy="4.2">of 0.40s (1.35%)</tspan></text></g>
<g id="n_fdwrite"><rect class="rd" x="456" y="566" width="44" height="24"/><text class="nt" x="478" y="570.9"><tspan x="478">poll</tspan><tspan x="478" dy="4.2">(*FD)</tspan><tspan x="478" dy="4.2">Write</tspan><tspan x="478" dy="4.2">0.03s (0.1%)</tspan><tspan x="478" dy="4.2">of 14.69s (49.70%)</tspan></text></g>
<g id="n_canon"><rect class="gr" x="289" y="616" width="67" height="24"/><text class="nt" x="322.5" y="623"><tspan x="322.5">textproto</tspan><tspan x="322.5" dy="4.2">CanonicalMIMEHeaderKey</tspan><tspan x="322.5" dy="4.2">0.04s (0.14%)</tspan><tspan x="322.5" dy="4.2">of 0.24s (0.81%)</tspan></text></g>
<g id="n_gindim"><rect class="gd" x="378" y="616" width="39" height="22"/><text class="nd" x="397.5" y="622"><tspan x="397.5">gin</tspan><tspan x="397.5" dy="4.2">(*node)</tspan><tspan x="397.5" dy="4.2">getValue</tspan><tspan x="397.5" dy="4.2">0 of 0.35s (1.18%)</tspan></text></g>
<g id="n_eintr"><rect class="rd" x="457" y="622" width="42" height="15" stroke-dasharray="2 1"/><text class="nd" x="478" y="626.6"><tspan x="478">poll</tspan><tspan x="478" dy="4.2">ignoringEINTRIO</tspan><tspan x="478" dy="4.2">0 of 14.91s (50.44%)</tspan></text></g>
<g id="n_sysread"><rect class="td" x="522" y="616" width="37" height="22"/><text class="nd" x="540.5" y="624.1"><tspan x="540.5">syscall</tspan><tspan x="540.5" dy="4.2">Read</tspan><tspan x="540.5" dy="4.2">0 of 2.65s (8.96%)</tspan></text></g>
<g id="n_canon2"><rect class="gr" x="293" y="668" width="59" height="20"/><text class="nt" x="322.5" y="673"><tspan x="322.5">textproto</tspan><tspan x="322.5" dy="4.2">canonicalMIMEHeaderKey</tspan><tspan x="322.5" dy="4.2">0.05s (0.17%)</tspan><tspan x="322.5" dy="4.2">of 0.18s (0.61%)</tspan></text></g>
<g id="n_sys6g"><rect class="gr" x="402" y="668" width="39" height="20"/><text class="nt" x="421.5" y="673"><tspan x="421.5">syscall</tspan><tspan x="421.5" dy="4.2">Syscall6</tspan><tspan x="421.5" dy="4.2">0.02s (0.068%)</tspan><tspan x="421.5" dy="4.2">of 0.83s (2.81%)</tspan></text></g>
<g id="n_syscall"><rect class="rd" x="456" y="668" width="44" height="20"/><text class="nt" x="478" y="673"><tspan x="478">syscall</tspan><tspan x="478" dy="4.2">Syscall</tspan><tspan x="478" dy="4.2">0.03s (0.1%)</tspan><tspan x="478" dy="4.2">of 17.96s (60.76%)</tspan></text></g>
<g id="n_mcall"><rect class="gd" x="519" y="671" width="38" height="15"/><text class="nd" x="538" y="675.6"><tspan x="538">runtime</tspan><tspan x="538" dy="4.2">mcall</tspan><tspan x="538" dy="4.2">0 of 0.28s (0.95%)</tspan></text></g>
<g id="n_fcntl"><rect class="gd" x="577" y="671" width="36" height="15"/><text class="nd" x="595" y="675.6"><tspan x="595">syscall</tspan><tspan x="595" dy="4.2">fcntl</tspan><tspan x="595" dy="4.2">0 of 0.34s (1.15%)</tspan></text></g>
<g id="n_enter"><rect class="gr" x="386" y="710" width="39" height="21"/><text class="nt" x="405.5" y="715.5"><tspan x="405.5">runtime</tspan><tspan x="405.5" dy="4.2">entersyscall</tspan><tspan x="405.5" dy="4.2">0.08s (0.27%)</tspan><tspan x="405.5" dy="4.2">of 0.19s (0.64%)</tspan></text></g>
<g id="n_raw"><rect class="rd" x="456" y="710" width="44" height="21"/><text class="nt" x="478" y="715.5"><tspan x="478">syscall</tspan><tspan x="478" dy="4.2">RawSyscall6</tspan><tspan x="478" dy="4.2">0.02s (0.068%)</tspan><tspan x="478" dy="4.2">of 17.90s (60.55%)</tspan></text></g>
<g id="n_schedule"><rect class="gr" x="542" y="710" width="37" height="20"/><text class="nt" x="560.5" y="715"><tspan x="560.5">runtime</tspan><tspan x="560.5" dy="4.2">schedule</tspan><tspan x="560.5" dy="4.2">0.03s (0.1%)</tspan><tspan x="560.5" dy="4.2">of 0.28s (0.95%)</tspan></text></g>
<g id="n_casg"><rect class="gr" x="385" y="758" width="42" height="23"/><text class="nt" x="406" y="764.5"><tspan x="406">runtime</tspan><tspan x="406" dy="4.2">casgstatus</tspan><tspan x="406" dy="4.2">0.21s (0.71%)</tspan><tspan x="406" dy="4.2">of 0.22s (0.74%)</tspan></text></g>
<g id="n_big"><rect class="rd" x="433" y="752" width="90" height="36" stroke-width="1.8"/><text class="nt" x="478" y="763" style="font-size:9.6px;fill:#111"><tspan x="478">syscall</tspan><tspan x="478" dy="10.6">Syscall6</tspan><tspan x="478" dy="10.6">18.24s (61.71%)</tspan></text></g>
<g id="n_ioopen"><rect class="gr" x="694" y="329" width="39" height="24"/><text class="nt" x="713.5" y="333.9"><tspan x="713.5">http</tspan><tspan x="713.5" dy="4.2">ioFS</tspan><tspan x="713.5" dy="4.2">Open</tspan><tspan x="713.5" dy="4.2">0.01s (0.034%)</tspan><tspan x="713.5" dy="4.2">of 1.67s (5.65%)</tspan></text></g>
<g id="n_servecontent"><rect class="od" x="740" y="333" width="40" height="16"/><text class="nd" x="760" y="338.1"><tspan x="760">http</tspan><tspan x="760" dy="4.2">serveContent</tspan><tspan x="760" dy="4.2">0 of 5.03s (17.02%)</tspan></text></g>
<g id="n_subfs"><rect class="gd" x="695" y="376" width="38" height="17"/><text class="nd" x="714" y="379.5"><tspan x="714">fs</tspan><tspan x="714" dy="4.2">(*subFS)</tspan><tspan x="714" dy="4.2">Open</tspan><tspan x="714" dy="4.2">0 of 1.66s (5.62%)</tspan></text></g>
<g id="n_copybuf"><rect class="or" x="740" y="375" width="41" height="20"/><text class="nt" x="760.5" y="380"><tspan x="760.5">io</tspan><tspan x="760.5" dy="4.2">copyBuffer</tspan><tspan x="760.5" dy="4.2">0.03s (0.1%)</tspan><tspan x="760.5" dy="4.2">of 4.68s (15.83%)</tspan></text></g>
<g id="n_peek"><rect class="tn" x="656" y="416" width="41" height="28"/><text class="nt" x="676.5" y="420.8"><tspan x="676.5">http</tspan><tspan x="676.5" dy="4.2">(*conn)</tspan><tspan x="676.5" dy="4.2">serve</tspan><tspan x="676.5" dy="4.2">func1</tspan><tspan x="676.5" dy="4.2">0.02s (0.068%)</tspan><tspan x="676.5" dy="4.2">of 3.07s (10.39%)</tspan></text></g>
<g id="n_servemux"><rect class="gd" x="595" y="419" width="38" height="23"/><text class="nd" x="614" y="425.5"><tspan x="614">http</tspan><tspan x="614" dy="4.2">(*HTTPServerImpl)</tspan><tspan x="614" dy="4.2">func1</tspan><tspan x="614" dy="4.2">0 of 1.53s (5.18%)</tspan></text></g>
<g id="n_osopen"><rect class="gd" x="704" y="420" width="38" height="20"/><text class="nd" x="723" y="427.1"><tspan x="723">os</tspan><tspan x="723" dy="4.2">OpenFile</tspan><tspan x="723" dy="4.2">0 of 0.37s (1.25%)</tspan></text></g>
<g id="n_readfrom"><rect class="od" x="765" y="421" width="41" height="18"/><text class="nd" x="785.5" y="425"><tspan x="785.5">http</tspan><tspan x="785.5" dy="4.2">(*response)</tspan><tspan x="785.5" dy="4.2">ReadFrom</tspan><tspan x="785.5" dy="4.2">0 of 4.03s (13.63%)</tspan></text></g>
<g id="n_connread"><rect class="td" x="513" y="476" width="38" height="19"/><text class="nd" x="532" y="480.5"><tspan x="532">net</tspan><tspan x="532" dy="4.2">(*conn)</tspan><tspan x="532" dy="4.2">Read</tspan><tspan x="532" dy="4.2">0 of 2.66s (9.00%)</tspan></text></g>
<g id="n_setdl"><rect class="gr" x="557" y="476" width="40" height="19"/><text class="nt" x="577" y="480.5"><tspan x="577">poll</tspan><tspan x="577" dy="4.2">setDeadlineImpl</tspan><tspan x="577" dy="4.2">0.03s (0.1%)</tspan><tspan x="577" dy="4.2">of 0.31s (1.05%)</tspan></text></g>
<g id="n_ndim"><rect class="td" x="620" y="476" width="38" height="19"/><text class="nd" x="639" y="480.5"><tspan x="639">http</tspan><tspan x="639" dy="4.2">(*Server)</tspan><tspan x="639" dy="4.2">Serve</tspan><tspan x="639" dy="4.2">0 of 1.53s (5.18%)</tspan></text></g>
<g id="n_readmime"><rect class="gr" x="753" y="475" width="43" height="21"/><text class="nt" x="774.5" y="480.5"><tspan x="774.5">textproto</tspan><tspan x="774.5" dy="4.2">readMIMEHeader</tspan><tspan x="774.5" dy="4.2">0.04s (0.14%)</tspan><tspan x="774.5" dy="4.2">of 0.56s (1.89%)</tspan></text></g>
<g id="n_hclone"><rect class="gr" x="802" y="473" width="40" height="24"/><text class="nt" x="822" y="477.9"><tspan x="822">http</tspan><tspan x="822" dy="4.2">Header</tspan><tspan x="822" dy="4.2">Clone</tspan><tspan x="822" dy="4.2">0.03s (0.1%)</tspan><tspan x="822" dy="4.2">of 0.19s (0.64%)</tspan></text></g>
<g id="n_hijacked"><rect class="gr" x="849" y="472" width="41" height="26"/><text class="nt" x="869.5" y="477.9"><tspan x="869.5">http</tspan><tspan x="869.5" dy="4.2">(*conn)</tspan><tspan x="869.5" dy="4.2">hijacked</tspan><tspan x="869.5" dy="4.2">0.03s (0.1%)</tspan><tspan x="869.5" dy="4.2">of 0.14s (0.47%)</tspan></text></g>
<g id="n_fdread"><rect class="tn" x="522" y="519" width="39" height="24"/><text class="nt" x="541.5" y="523.9"><tspan x="541.5">poll</tspan><tspan x="541.5" dy="4.2">(*FD)</tspan><tspan x="541.5" dy="4.2">Read</tspan><tspan x="541.5" dy="4.2">0.02s (0.068%)</tspan><tspan x="541.5" dy="4.2">of 2.75s (9.30%)</tspan></text></g>
<g id="n_accept"><rect class="td" x="601" y="522" width="37" height="19"/><text class="nd" x="619.5" y="526.5"><tspan x="619.5">net</tspan><tspan x="619.5" dy="4.2">(*TCPListener)</tspan><tspan x="619.5" dy="4.2">Accept</tspan><tspan x="619.5" dy="4.2">0 of 1.36s (4.60%)</tspan></text></g>
<g id="n_setstate"><rect class="gr" x="662" y="519" width="39" height="24"/><text class="nt" x="681.5" y="523.9"><tspan x="681.5">http</tspan><tspan x="681.5" dy="4.2">(*conn)</tspan><tspan x="681.5" dy="4.2">setState</tspan><tspan x="681.5" dy="4.2">0.02s (0.068%)</tspan><tspan x="681.5" dy="4.2">of 0.21s (0.71%)</tspan></text></g>
<g id="n_makeslice"><rect class="gd" x="757" y="523" width="38" height="16"/><text class="nd" x="776" y="528.1"><tspan x="776">runtime</tspan><tspan x="776" dy="4.2">makeslice</tspan><tspan x="776" dy="4.2">0 of 0.45s (1.52%)</tspan></text></g>
<g id="n_readline"><rect class="gd" x="800" y="522" width="39" height="19"/><text class="nd" x="819.5" y="526.5"><tspan x="819.5">textproto</tspan><tspan x="819.5" dy="4.2">(*Reader)</tspan><tspan x="819.5" dy="4.2">readLineSlice</tspan><tspan x="819.5" dy="4.2">0 of 0.49s (1.66%)</tspan></text></g>
<g id="n_connreader"><rect class="gd" x="846" y="522" width="37" height="18"/><text class="nd" x="864.5" y="526"><tspan x="864.5">http</tspan><tspan x="864.5" dy="4.2">(*connReader)</tspan><tspan x="864.5" dy="4.2">Read</tspan><tspan x="864.5" dy="4.2">0 of 0.22s (0.74%)</tspan></text></g>
<g id="n_mapassign"><rect class="gr" x="891" y="521" width="42" height="21"/><text class="nt" x="912" y="526.5"><tspan x="912">runtime</tspan><tspan x="912" dy="4.2">mapassign_faststr</tspan><tspan x="912" dy="4.2">0.06s (0.2%)</tspan><tspan x="912" dy="4.2">of 0.17s (0.58%)</tspan></text></g>
<g id="n_sockdim"><rect class="gd" x="577" y="570" width="36" height="15"/><text class="nd" x="595" y="574.6"><tspan x="595">net</tspan><tspan x="595" dy="4.2">sysSocket</tspan><tspan x="595" dy="4.2">0 of 0.79s (2.67%)</tspan></text></g>
<g id="n_netfdaccept"><rect class="gr" x="621" y="566" width="40" height="24"/><text class="nt" x="641" y="570.9"><tspan x="641">net</tspan><tspan x="641" dy="4.2">(*netFD)</tspan><tspan x="641" dy="4.2">accept</tspan><tspan x="641" dy="4.2">0.02s (0.068%)</tspan><tspan x="641" dy="4.2">of 0.97s (3.28%)</tspan></text></g>
<g id="n_timenow"><rect class="gr" x="683" y="569" width="36" height="18"/><text class="nt" x="701" y="575.1"><tspan x="701">time</tspan><tspan x="701" dy="4.2">Now</tspan><tspan x="701" dy="4.2">0.18s (0.61%)</tspan></text></g>
<g id="n_bufread"><rect class="gd" x="800" y="568" width="39" height="19"/><text class="nd" x="819.5" y="572.5"><tspan x="819.5">bufio</tspan><tspan x="819.5" dy="4.2">(*Reader)</tspan><tspan x="819.5" dy="4.2">fill</tspan><tspan x="819.5" dy="4.2">0 of 0.61s (2.06%)</tspan></text></g>
<g id="n_newobject"><rect class="tn" x="800" y="616" width="41" height="24"/><text class="nt" x="820.5" y="623"><tspan x="820.5">runtime</tspan><tspan x="820.5" dy="4.2">newobject</tspan><tspan x="820.5" dy="4.2">0.14s (0.47%)</tspan><tspan x="820.5" dy="4.2">of 1.01s (3.42%)</tspan></text></g>
<g id="n_mallocgc"><rect class="tn" x="749" y="758" width="45" height="24"/><text class="nt" x="771.5" y="765"><tspan x="771.5">runtime</tspan><tspan x="771.5" dy="4.2">mallocgc</tspan><tspan x="771.5" dy="4.2">0.40s (1.35%)</tspan><tspan x="771.5" dy="4.2">of 1.65s (5.58%)</tspan></text></g>
<g id="n_nextfree"><rect class="gr" x="682" y="817" width="35" height="18"/><text class="nt" x="699.5" y="822.1"><tspan x="699.5">runtime</tspan><tspan x="699.5" dy="4.2">nextFreeFast</tspan><tspan x="699.5" dy="4.2">0.23s (0.78%)</tspan></text></g>
<g id="n_heapbits"><rect class="gr" x="724" y="815" width="38" height="22"/><text class="nt" x="743" y="821"><tspan x="743">runtime</tspan><tspan x="743" dy="4.2">(*writeHeapBits)</tspan><tspan x="743" dy="4.2">flush</tspan><tspan x="743" dy="4.2">0.16s (0.54%)</tspan></text></g>
<g id="n_memclr"><rect class="gr" x="769" y="817" width="64" height="18"/><text class="nt" x="801" y="822.1"><tspan x="801">runtime</tspan><tspan x="801" dy="4.2">memclrNoHeapPointers</tspan><tspan x="801" dy="4.2">0.32s (1.08%)</tspan></text></g>
</svg>
